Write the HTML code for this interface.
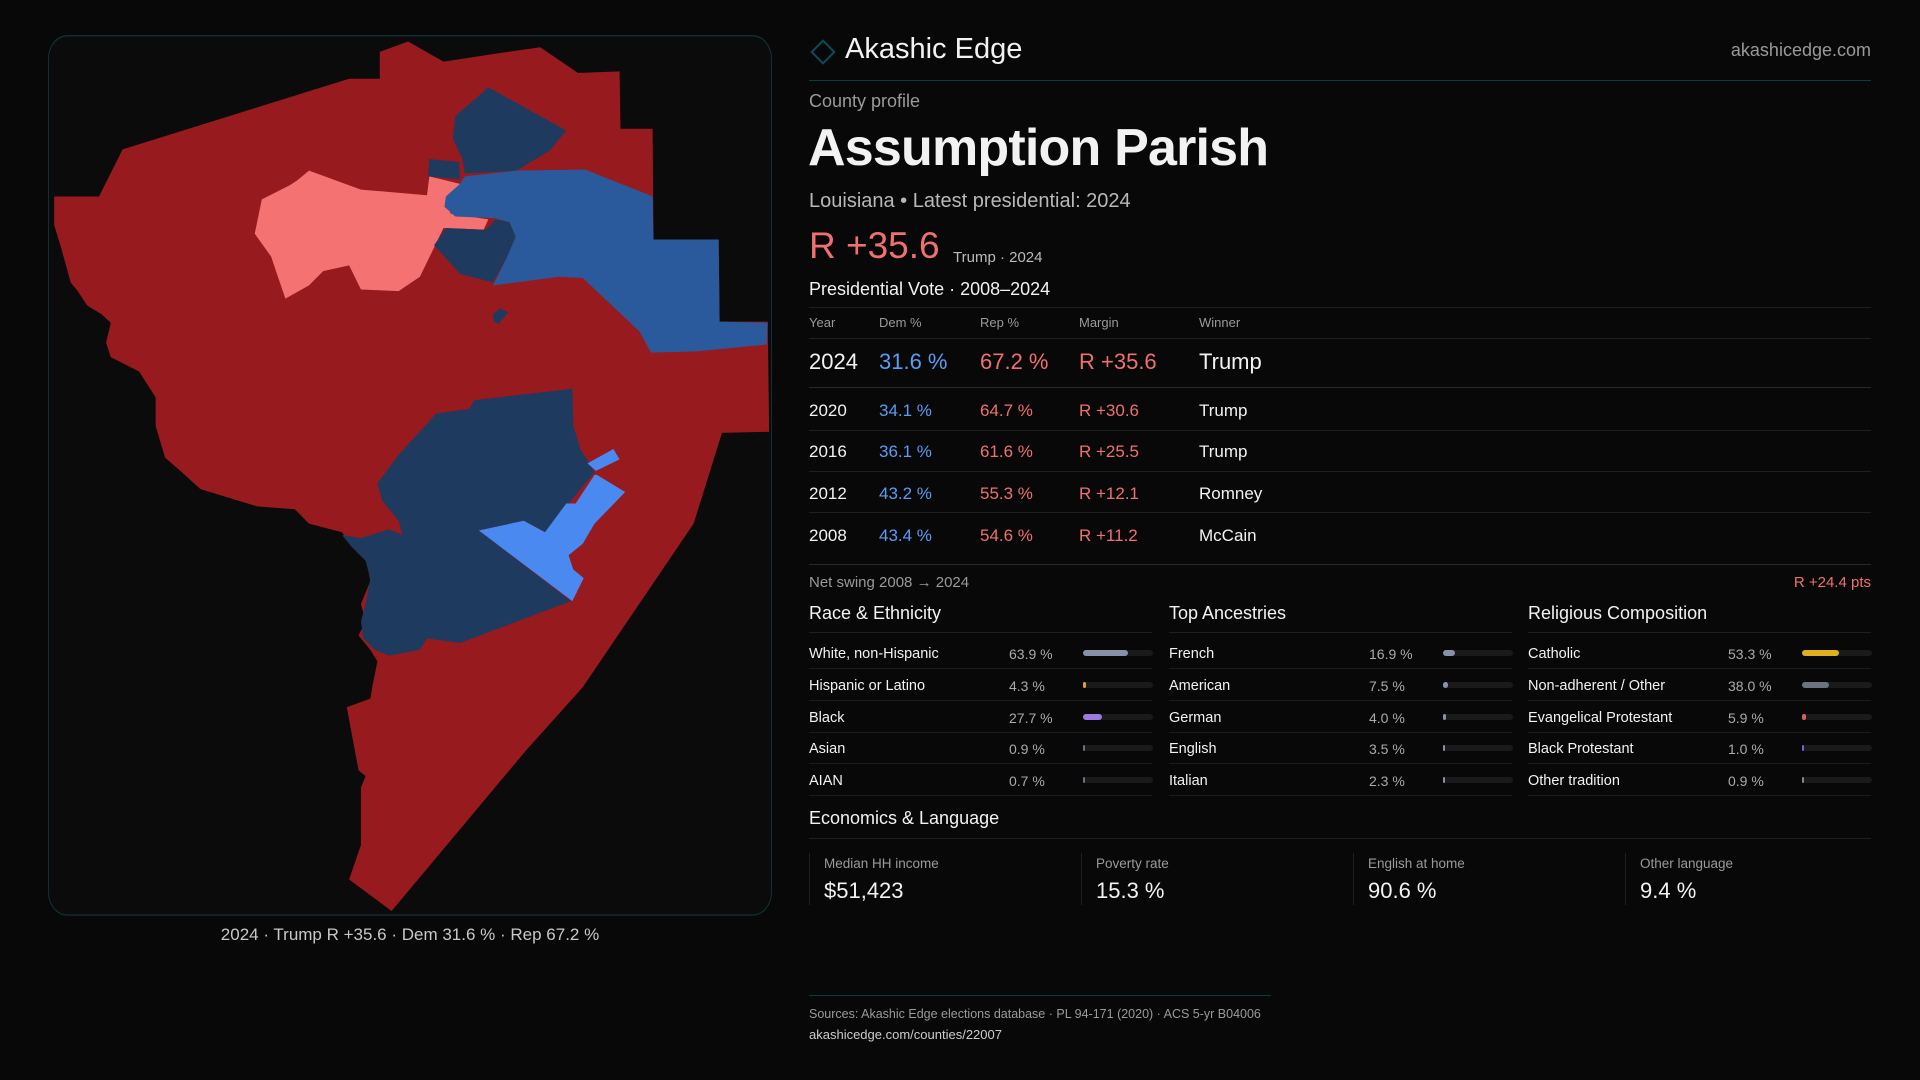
<!DOCTYPE html>
<html><head><meta charset="utf-8"><style>
*{margin:0;padding:0;box-sizing:border-box}
body{width:1920px;height:1080px;background:#080808;font-family:"Liberation Sans",sans-serif;color:#f2f2f2;position:relative;overflow:hidden}
.a{position:absolute;white-space:nowrap}
.m{color:#9a9a9a}
.hl{position:absolute;height:1px;background:#1f1f21}
.dem{color:#5b9cf5}.rep{color:#f07070}
</style></head><body>
<svg class="a" style="left:40px;top:30px" width="740" height="900" viewBox="0 0 1568 1568" preserveAspectRatio="none">
<rect x="18" y="10" width="1532" height="1532" rx="40" fill="#0b0b0c" stroke="#12343a" stroke-width="2"/>
<polygon fill="#971a1e" points="720,38 780,20 855,55 975,40 1060,30 1140,75 1228,72 1230,172 1298,172 1300,365 1438,365 1440,508 1542,508 1545,700 1445,702 1385,860 1150,1145 1030,1255 745,1535 655,1480 680,1420 680,1320 690,1300 675,1290 650,1180 700,1165 705,1140 715,1100 700,1080 675,1055 690,1030 680,1000 700,960 690,920 660,900 640,875 570,860 540,835 460,830 340,800 300,770 265,745 245,690 245,640 210,595 150,570 140,545 150,510 130,495 100,480 80,455 65,440 45,380 30,340 30,290 125,290 175,208 440,140 655,85 720,85"/>
<polygon fill="#f47272" points="470,295 530,270 545,262 570,245 680,278 820,288 825,255 890,268 860,295 870,320 950,330 940,348 855,345 805,430 760,455 680,452 655,410 600,420 570,445 520,468 500,420 490,395 455,355"/>
<polygon fill="#1e3a5f" points="950,100 1115,175 1080,210 1010,245 900,250 895,225 875,190 880,150"/>
<polygon fill="#1e3a5f" points="825,225 888,230 890,260 822,255"/>
<polygon fill="#1e3a5f" points="835,375 860,345 945,348 965,330 995,335 1008,360 990,395 960,440 890,425"/>
<polygon fill="#2a5a9c" points="900,255 1010,245 1155,243 1298,290 1300,365 1438,365 1440,508 1542,510 1540,548 1390,560 1295,562 1270,525 1150,432 1100,430 960,445 990,395 1008,360 995,335 965,328 880,325 857,308 860,290 890,268"/>
<polygon fill="#1e3a5f" points="960,495 975,485 992,492 972,512 962,508"/>
<polygon fill="#1e3a5f" points="840,668 910,660 920,645 1128,625 1130,690 1145,730 1175,770 1070,875 1025,855 930,872 1125,995 890,1068 820,1060 805,1080 740,1090 710,1080 685,1060 680,1030 690,1000 700,955 690,925 660,900 640,880 680,885 740,870 768,880 760,855 725,820 715,790 760,740"/>
<polygon fill="#4a8af0" points="1160,755 1215,730 1228,748 1178,768"/>
<polygon fill="#4a8af0" points="1180,775 1240,805 1175,860 1150,895 1120,915 1130,940 1152,955 1128,995 930,872 1025,855 1070,875 1115,825 1135,825 1175,775"/>
</svg>
<div class="a" style="left:0;width:820px;top:925px;text-align:center;font-size:17px;color:#c8c8c8">2024 · Trump R +35.6 · Dem 31.6 % · Rep 67.2 %</div>

<div class="a" style="left:814px;top:43px;width:18px;height:18px;border:2px solid #0e4a55;transform:rotate(45deg)"></div>
<div class="a" style="left:845px;top:33px;font-size:29px">Akashic Edge</div>
<div class="a m" style="right:49px;top:40px;font-size:18px">akashicedge.com</div>
<div class="hl" style="left:809px;width:1062px;top:80px;background:#0f3a40"></div>
<div class="a m" style="left:809px;top:91px;font-size:18px">County profile</div>
<div class="a" style="left:808px;top:118px;font-size:52px;font-weight:bold;letter-spacing:-0.8px">Assumption Parish</div>
<div class="a" style="left:809px;top:190px;font-size:20px;color:#b8b8b8">Louisiana • Latest presidential: 2024</div>
<div class="a rep" style="left:809px;top:225px;font-size:37px">R +35.6</div>
<div class="a" style="left:953px;top:249px;font-size:15px;color:#bbb">Trump · 2024</div>
<div class="a" style="left:809px;top:279px;font-size:18px">Presidential Vote · 2008–2024</div>
<div class="hl" style="left:809px;width:1062px;top:307px"></div>
<div class="a m" style="left:809px;top:315px;font-size:13px">Year</div>
<div class="a m" style="left:879px;top:315px;font-size:13px">Dem %</div>
<div class="a m" style="left:980px;top:315px;font-size:13px">Rep %</div>
<div class="a m" style="left:1079px;top:315px;font-size:13px">Margin</div>
<div class="a m" style="left:1199px;top:315px;font-size:13px">Winner</div>
<div class="hl" style="left:809px;width:1062px;top:338px"></div>
<div id="vt"></div>
<div class="hl" style="left:809px;width:1062px;top:564px;background:#2a2a2c"></div>
<div class="a m" style="left:809px;top:574px;font-size:15px">Net swing 2008 → 2024</div>
<div class="a rep" style="right:49px;top:574px;font-size:15px">R +24.4 pts</div>
<div id="demo"></div>
<div class="a" style="left:809px;top:808px;font-size:18px">Economics &amp; Language</div>
<div class="hl" style="left:809px;width:1062px;top:838px"></div>
<div id="stats"></div>
<div class="hl" style="left:809px;width:462px;top:995px;background:#0f3a40"></div>
<div class="a m" style="left:809px;top:1007px;font-size:12.5px">Sources: Akashic Edge elections database · PL 94-171 (2020) · ACS 5-yr B04006</div>
<div class="a" style="left:809px;top:1027px;font-size:13px;color:#ccc">akashicedge.com/counties/22007</div>
<script>
const years=[2024,2020,2016,2012,2008];
const demPct=[31.6,34.1,36.1,43.2,43.4];
const repPct=[67.2,64.7,61.6,55.3,54.6];
const winners=["Trump","Trump","Trump","Romney","McCain"];
const raceLabels=["White, non-Hispanic","Hispanic or Latino","Black","Asian","AIAN"];
const raceVals=[63.9,4.3,27.7,0.9,0.7];
const ancLabels=["French","American","German","English","Italian"];
const ancVals=[16.9,7.5,4.0,3.5,2.3];
const relLabels=["Catholic","Non-adherent / Other","Evangelical Protestant","Black Protestant","Other tradition"];
const relVals=[53.3,38.0,5.9,1.0,0.9];
const statLabels=["Median HH income","Poverty rate","English at home","Other language"];
const statVals=["$51,423","15.3 %","90.6 %","9.4 %"];
const raceColors=["#8592a8","#e0a020","#9a7ae0","#6b7280","#6b7280"];
const relColors=["#e0b020","#6b7280","#e05a5a","#6b6bd0","#888"];

function mk(parent,html,style){const d=document.createElement('div');d.className='a';d.style.cssText=style;d.innerHTML=html;parent.appendChild(d);return d;}
const vt=document.getElementById('vt');
const rowTops=[349,399,440,482,524];
years.forEach((y,i)=>{
  const big=i===0,fs=big?22:17,t=rowTops[i]+(big?0:2);
  const m=repPct[i]-demPct[i];
  let d;
  d=mk(vt,y,`left:809px;top:${t}px;font-size:${fs}px`);
  
  
  d=mk(vt,demPct[i].toFixed(1)+' %',`left:879px;top:${t}px;font-size:${fs}px;color:#5b9cf5`);
  
  
  d=mk(vt,repPct[i].toFixed(1)+' %',`left:980px;top:${t}px;font-size:${fs}px;color:#f07070`);
  
  
  d=mk(vt,(m>=0?'R +':'D +')+Math.abs(m).toFixed(1),`left:1079px;top:${t}px;font-size:${fs}px;color:#f07070`);
  
  
  d=mk(vt,winners[i],`left:1199px;top:${t}px;font-size:${fs}px`);
  
  
  if(i<4){const l=mk(vt,'',`left:809px;width:1062px;height:1px;top:${[387,430,471,512][i]}px;background:${i==0?'#2a2a2c':'#1f1f21'}`);
  
  }
});
const demo=document.getElementById('demo');
const groups=[["Race & Ethnicity",raceLabels,raceVals,raceColors,809],["Top Ancestries",ancLabels,ancVals,ancLabels.map(()=>"#8592a8"),1169],["Religious Composition",relLabels,relVals,relColors,1528]];
groups.forEach(g=>{
  const x=g[4];
  let h=mk(demo,g[0].replace('&','&amp;'),`left:${x}px;top:603px;font-size:18px`);
  
  
  let l=mk(demo,'',`left:${x}px;top:632px;width:343px;height:1px;background:#1f1f21`);
  
  
  g[1].forEach((lab,i)=>{
    const cy=653+i*31.8;
    let d=mk(demo,lab,`left:${x}px;top:${cy-7}px;font-size:14.5px`);
    
    
    d=mk(demo,g[2][i].toFixed(1)+' %',`left:${x+200}px;top:${cy-7}px;font-size:14px;color:#aaa`);
    
    
    const tr=mk(demo,'',`left:${x+274}px;top:${cy-3}px;width:70px;height:6px;border-radius:3px;background:#1a1a1c`);
    
    
    const w=Math.max(2,70*g[2][i]/100);
    const f=mk(demo,'',`left:${x+274}px;top:${cy-3}px;width:${w}px;height:6px;border-radius:3px;background:${g[3][i]}`);
    
    
    const r=mk(demo,'',`left:${x}px;top:${cy+15}px;width:343px;height:1px;background:#1c1c1e`);
    
    
  });
});
const st=document.getElementById('stats');
statLabels.forEach((lab,i)=>{
  const x=809+i*272;
  const b=mk(st,'',`left:${x}px;top:853px;width:1px;height:52px;background:#1f1f21`);
  
  
  let d=mk(st,lab,`left:${x+15}px;top:856px;font-size:13.5px;color:#9a9a9a`);
  
  
  d=mk(st,statVals[i],`left:${x+15}px;top:878px;font-size:22px`);
  
  
});
</script>
</body></html>
